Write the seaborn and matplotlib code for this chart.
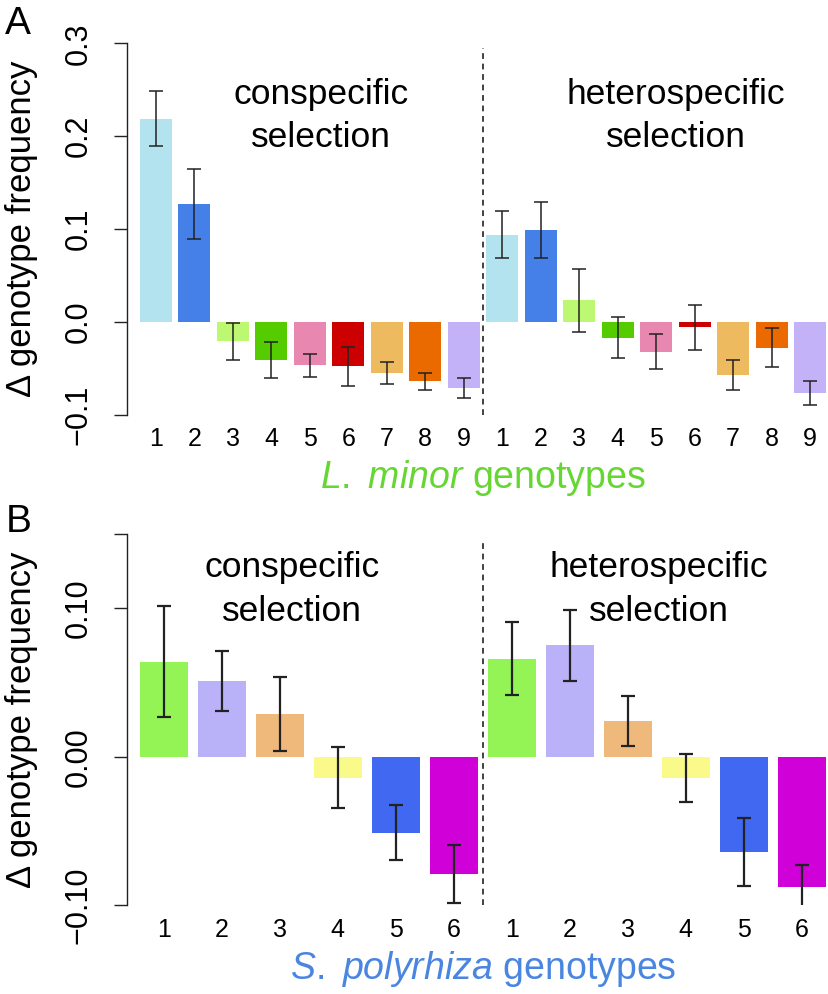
import matplotlib
matplotlib.use("Agg")
import matplotlib.pyplot as plt
import seaborn as sns
import pandas as pd
import numpy as np

sns.set_theme(style="ticks")
plt.rcParams['font.family'] = ['Liberation Sans', 'DejaVu Sans']
plt.rcParams['axes.unicode_minus'] = True
plt.rcParams['mathtext.fontset'] = 'custom'
plt.rcParams['mathtext.rm'] = 'Liberation Sans'
plt.rcParams['mathtext.it'] = 'Liberation Sans:italic'
plt.rcParams['text.color'] = 'black'
plt.rcParams['xtick.color'] = 'black'
plt.rcParams['ytick.color'] = 'black'

# ---------------- data ----------------
lm_genotypes = ["1", "2", "3", "4", "5", "6", "7", "8", "9"]
lm_con_mean = [0.219, 0.127, -0.021, -0.041, -0.047, -0.048, -0.055, -0.064, -0.071]
lm_con_se = [0.030, 0.038, 0.020, 0.019, 0.012, 0.021, 0.012, 0.009, 0.011]
lm_het_mean = [0.094, 0.099, 0.023, -0.017, -0.032, -0.006, -0.057, -0.028, -0.077]
lm_het_se = [0.025, 0.030, 0.034, 0.022, 0.019, 0.024, 0.016, 0.021, 0.013]
lm_colors = ["#B3E3EF", "#4480E8", "#BDF873", "#55CC00", "#E887B0",
             "#CC0000", "#EDBA60", "#EA6A00", "#C4B2F8"]

sp_genotypes = ["1", "2", "3", "4", "5", "6"]
sp_con_mean = [0.064, 0.051, 0.029, -0.014, -0.051, -0.079]
sp_con_se = [0.0375, 0.0205, 0.025, 0.0205, 0.0183, 0.0194]
sp_het_mean = [0.066, 0.075, 0.024, -0.014, -0.064, -0.088]
sp_het_se = [0.0247, 0.0237, 0.0167, 0.0162, 0.0230, 0.0154]
sp_colors = ["#94F456", "#B9B2F9", "#EEB97B", "#FAFA8A", "#4068F0", "#D000D8"]

group_labels = ["conspecific\nselection", "heterospecific\nselection"]

lm_yticks = [-0.1, 0.0, 0.1, 0.2, 0.3]
lm_yticklabels = ["\u22120.1", "0.0", "0.1", "0.2", "0.3"]
sp_yticks = [-0.10, 0.0, 0.10, 0.15]
sp_yticklabels = ["\u22120.10", "0.00", "0.10", ""]

W, H = 829, 994
fig = plt.figure(figsize=(W / 100, H / 100), dpi=100)


def fx(px):
    return px / W


def fy(py):
    return 1 - py / H


def panel(ax, genos, con_m, con_se, het_m, het_se, colors, width, ylim,
          yticks, yticklabels, xlim, dash_top, elw):
    n = len(genos)
    df = pd.DataFrame({
        "bar": [f"c{g}" for g in genos] + [f"h{g}" for g in genos],
        "value": list(con_m) + list(het_m),
    })
    sns.barplot(data=df, x="bar", y="value", hue="bar", palette=list(colors) * 2,
                legend=False, width=width, saturation=1, errorbar=None,
                linewidth=0, ax=ax)
    ax.errorbar(np.arange(2 * n), df["value"], yerr=list(con_se) + list(het_se),
                fmt="none", ecolor="#222222", elinewidth=elw, capsize=5,
                capthick=elw, zorder=5)
    ax.axvline(n - 0.5, ymin=0, ymax=dash_top, color="#333333", lw=1.3,
               ls=(0, (3.2, 2.6)))
    ax.set_xlim(*xlim)
    ax.set_ylim(*ylim)
    ax.set_yticks(yticks)
    ax.set_yticklabels(yticklabels)
    ax.set_xticks(np.arange(2 * n))
    ax.set_xticklabels(list(genos) * 2)
    ax.set_xlabel("")
    ax.set_ylabel("")
    for s in ["top", "right", "bottom"]:
        ax.spines[s].set_visible(False)
    ax.spines["left"].set_bounds(yticks[0], yticks[-1])
    ax.spines["left"].set_color("#222222")
    ax.spines["left"].set_linewidth(1.0)
    ax.tick_params(axis="y", length=9.5, width=1.0, color="#222222",
                   labelcolor="black", labelsize=22, pad=15, labelrotation=90)
    for lab in ax.get_yticklabels():
        lab.set_va("center")
    ax.tick_params(axis="x", length=0, labelsize=18, pad=9, labelcolor="black")
    ax.patch.set_alpha(0)


axA = fig.add_axes([fx(127.3), fy(414.7), fx(829 - 127.3), (414.7 - 43.3) / H])
panel(axA, lm_genotypes, lm_con_mean, lm_con_se, lm_het_mean, lm_het_se,
      lm_colors, 0.83, (-0.1, 0.3), lm_yticks, lm_yticklabels,
      (-0.742, 17.49), 0.987, 1.1)

axB = fig.add_axes([fx(127.3), fy(905.3), fx(829 - 127.3), (905.3 - 534) / H])
panel(axB, sp_genotypes, sp_con_mean, sp_con_se, sp_het_mean, sp_het_se,
      sp_colors, 0.82, (-0.10, 0.15), sp_yticks, sp_yticklabels,
      (-0.630, 11.47), 0.986, 1.6)

# group titles
txt_kw = dict(fontsize=25.5, ha="center", va="baseline", color="black")
for (cx, by), lab in zip([(320.8, 104), (676, 104)], group_labels):
    l1, l2 = lab.split("\n")
    fig.text(fx(cx), fy(by), l1, **txt_kw)
    fig.text(fx(cx), fy(by + 42.7), l2, **txt_kw)
for (cx, by), lab in zip([(292, 577.3), (659, 577.3)], group_labels):
    l1, l2 = lab.split("\n")
    fig.text(fx(cx), fy(by), l1, **txt_kw)
    fig.text(fx(cx), fy(by + 43.3), l2, **txt_kw)

# y labels
for cy in [229, 719.6]:
    fig.text(fx(22), fy(cy), "\u0394 genotype frequency", rotation=90,
             fontsize=25, ha="center", va="center")

# panel letters
fig.text(fx(18), fy(24), "A", fontsize=28, ha="center", va="center")
fig.text(fx(19), fy(522), "B", fontsize=28, ha="center", va="center")

# x labels
fig.text(fx(482.5), fy(488), r"$\it{L.}$ $\it{minor}$ genotypes", fontsize=27,
         ha="center", va="baseline", color="#66D633")
fig.text(fx(483.3), fy(979), r"$\it{S.}$ $\it{polyrhiza}$ genotypes", fontsize=27,
         ha="center", va="baseline", color="#4A86E0")

fig.savefig("out.png", dpi=100)
